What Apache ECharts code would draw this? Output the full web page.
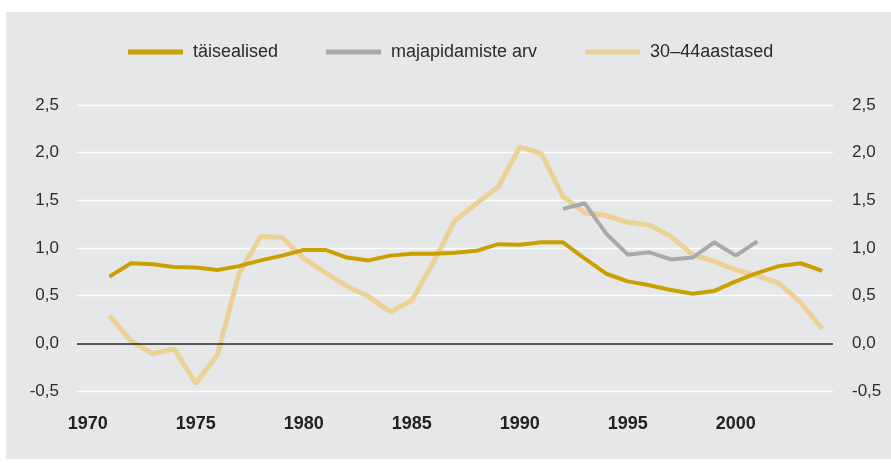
<!DOCTYPE html>
<html>
<head>
<meta charset="utf-8">
<script src="https://cdn.jsdelivr.net/npm/echarts@6/dist/echarts.min.js"></script>
<style>
  html, body { margin: 0; padding: 0; background: #fff; }
  #chart { width: 891px; height: 463px; }
</style>
</head>
<body>
<div id="chart"></div>
<script>
// years on the category axis
const years = []
for (let y = 1970; y <= 2004; y++) years.push(String(y))

// täisealised (1970 empty)
const adults = [null,
  0.70, 0.84, 0.83, 0.80, 0.795, 0.77, 0.81, 0.87, 0.92, 0.98,
  0.98, 0.90, 0.87, 0.92, 0.94, 0.94, 0.95, 0.97, 1.04, 1.035,
  1.06, 1.06, 0.89, 0.73, 0.65, 0.61, 0.56, 0.52, 0.55, 0.65,
  0.74, 0.81, 0.84, 0.76]

// majapidamiste arv, only 1992-2001
const households = [null,
  null, null, null, null, null, null, null, null, null, null,
  null, null, null, null, null, null, null, null, null, null,
  null, 1.41, 1.47, 1.15, 0.93, 0.955, 0.88, 0.90, 1.06, 0.92,
  1.07, null, null, null]

// 30–44aastased
const age3044 = [null,
  0.29, 0.025, -0.11, -0.06, -0.42, -0.12, 0.73, 1.12, 1.11, 0.89,
  0.74, 0.60, 0.49, 0.33, 0.45, 0.85, 1.29, 1.47, 1.64, 2.06,
  1.99, 1.54, 1.37, 1.34, 1.27, 1.24, 1.12, 0.93, 0.86, 0.77,
  0.71, 0.63, 0.43, 0.15]

const yTicks = { min: -0.5, max: 2.5, step: 0.5 }

const FONT = '"Liberation Sans", Arial, sans-serif'
const fmt = v => v.toFixed(1).replace('.', ',')

const chart = echarts.init(document.getElementById('chart'))

const yAxisBase = {
  type: 'value',
  min: yTicks.min,
  max: yTicks.max,
  interval: yTicks.step,
  axisLine: { show: false },
  axisTick: { show: false }
}

chart.setOption({
  animation: false,
  graphic: [{
    type: 'rect',
    z: -10,
    shape: { x: 6, y: 12, width: 885, height: 447 },
    style: { fill: '#e6e7e9' }
  }],
  legend: {
    left: 123,
    top: 38,
    itemWidth: 55,
    itemHeight: 5,
    itemGap: 48,
    icon: 'rect',
    textStyle: { fontFamily: FONT, fontSize: 18, color: '#2b2b2b', padding: [0, 0, 0, 5] },
    data: ['täisealised', 'majapidamiste arv', '30–44aastased']
  },
  grid: { left: 77, right: 58, top: 105, bottom: 72 },
  xAxis: {
    type: 'category',
    data: years,
    boundaryGap: true,
    axisLine: { show: false },
    axisTick: { show: false },
    axisLabel: {
      interval: 4,
      margin: 24,
      fontFamily: FONT,
      fontSize: 18,
      fontWeight: 'bold',
      color: '#222'
    }
  },
  yAxis: [
    Object.assign({}, yAxisBase, {
      position: 'left',
      splitLine: { show: true, lineStyle: { color: '#ffffff', width: 1.3 } },
      axisLabel: { margin: 18, fontFamily: FONT, fontSize: 17, color: '#2b2b2b', formatter: fmt }
    }),
    Object.assign({}, yAxisBase, {
      position: 'right',
      splitLine: { show: false },
      axisLabel: { margin: 19, fontFamily: FONT, fontSize: 17, color: '#2b2b2b', formatter: fmt }
    })
  ],
  series: [
    {
      name: 'täisealised',
      type: 'line',
      z: 3,
      data: adults,
      symbol: 'none',
      itemStyle: { color: '#c9a000' },
      lineStyle: { color: '#c9a000', width: 4 }
    },
    {
      name: 'majapidamiste arv',
      type: 'line',
      z: 4,
      data: households,
      symbol: 'none',
      itemStyle: { color: '#a8a9ab' },
      lineStyle: { color: '#a8a9ab', width: 4 }
    },
    {
      name: '30–44aastased',
      type: 'line',
      z: 2,
      data: age3044,
      symbol: 'none',
      itemStyle: { color: '#ebd196' },
      lineStyle: { color: '#ebd196', width: 5 },
      markLine: {
        silent: true,
        symbol: 'none',
        label: { show: false },
        lineStyle: { color: '#222', width: 1.5, type: 'solid' },
        data: [{ yAxis: 0 }]
      }
    }
  ]
})
</script>
</body>
</html>
